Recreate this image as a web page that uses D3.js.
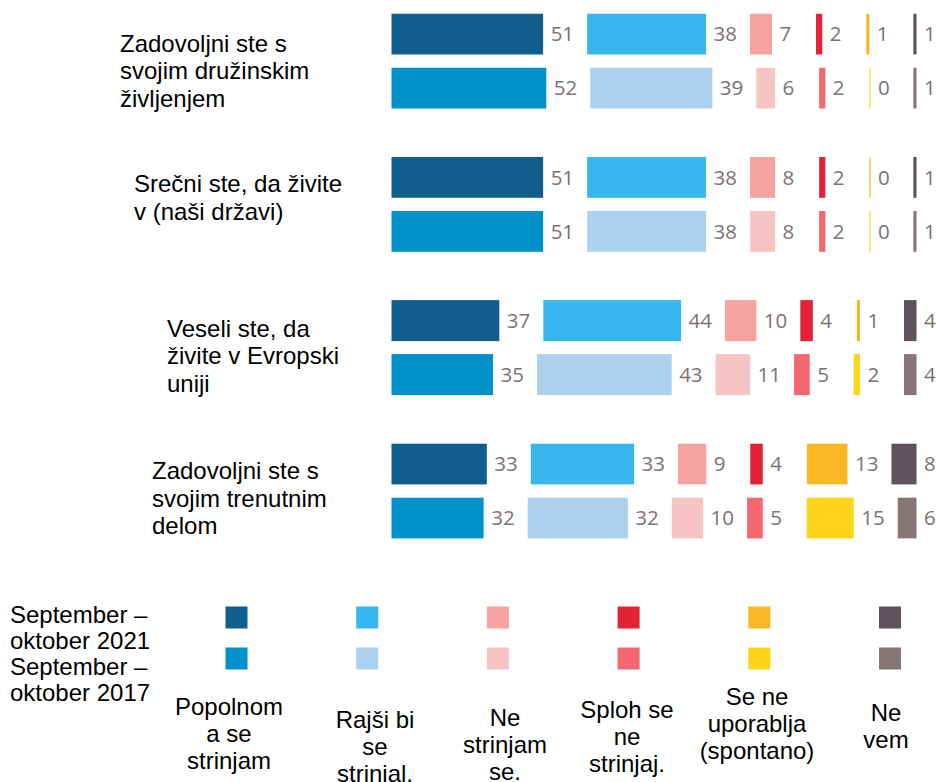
<!DOCTYPE html>
<html>
<head>
<meta charset="utf-8">
<script src="https://cdn.jsdelivr.net/npm/d3@7"></script>
<style>
  body { margin: 0; background: #fff; }
</style>
</head>
<body>
<div id="chart"></div>
<script>
// questions, split the way they are wrapped in the picture
var categories = ["druzinsko", "drzava", "eu", "delo"];
var categoryLines = [
    ["Zadovoljni ste s", "svojim družinskim", "življenjem"],
    ["Srečni ste, da živite", "v (naši državi)"],
    ["Veseli ste, da", "živite v Evropski", "uniji"],
    ["Zadovoljni ste s", "svojim trenutnim", "delom"]
];
var periods = ["2021", "2017"];
var periodLines = ["September –", "oktober 2021", "September –", "oktober 2017"];
var answerLines = [
    ["Popolnom", "a se", "strinjam"],
    ["Rajši bi", "se", "strinjal."],
    ["Ne", "strinjam", "se."],
    ["Sploh se", "ne", "strinjaj."],
    ["Se ne", "uporablja", "(spontano)"],
    ["Ne", "vem"]
];

// percentages, one row per question, one column per answer
var values2021 = [
    [51, 38, 7, 2, 1, 1],
    [51, 38, 8, 2, 0, 1],
    [37, 44, 10, 4, 1, 4],
    [33, 33, 9, 4, 13, 8]
];
var values2017 = [
    [52, 39, 6, 2, 0, 1],
    [51, 38, 8, 2, 0, 1],
    [35, 43, 11, 5, 2, 4],
    [32, 32, 10, 5, 15, 6]
];

var colors2021 = ["#0f5e8e", "#38b7ee", "#f4a3a0", "#e32236", "#f9b824", "#5f525c"];
var colors2017 = ["#0091cb", "#abd1ef", "#f6c4c2", "#f56770", "#fed518", "#877577"];

var width = 936, height = 782;
var barX0 = 383.5;   // where the (cropped) first bar would start
var clipX = 391.5;   // picture is cropped at the left of the bars
var gap = 44;        // space between one segment and the next (holds the number)

var svg = d3.select("#chart").append("svg")
    .attr("width", width)
    .attr("height", height)
    .style("font-family", "'Liberation Sans', Arial, sans-serif");

svg.append("defs").append("clipPath").attr("id", "barclip")
    .append("rect").attr("x", clipX).attr("y", 0).attr("width", width).attr("height", height);

var w = d3.scaleLinear().domain([0, 100]).range([0, 313]);

var yGroup = d3.scaleBand().domain(categories).range([13.5, 13.5 + 4 * 143.3]);
var yRow = d3.scaleBand().domain(periods).range([0, 95]).paddingInner(13 / 54);

// label x positions and first baseline offsets per question
var catX = [120, 134, 167, 152];
var catDy = [38.5, 35.5, 37, 36];

categories.forEach(function (cat, gi) {
    var g = svg.append("g").attr("transform", "translate(0," + yGroup(cat) + ")");

    g.append("text")
        .attr("x", catX[gi])
        .attr("y", catDy[gi])
        .style("font-size", "24px")
        .style("fill", "#000")
        .selectAll("tspan")
        .data(categoryLines[gi])
        .enter().append("tspan")
            .attr("x", catX[gi])
            .attr("dy", function (d, i) { return i === 0 ? 0 : 27.3; })
            .text(function (d) { return d; });

    [values2021[gi], values2017[gi]].forEach(function (vals, ri) {
        var colors = ri === 0 ? colors2021 : colors2017;
        var segs = [];
        var x = barX0;
        vals.forEach(function (v, i) {
            var bw = w(v);
            segs.push({v: v, x: x, w: Math.max(bw, 1.2), end: x + bw, c: colors[i]});
            x += bw + gap;
        });

        var row = g.append("g").attr("transform", "translate(0," + yRow(periods[ri]) + ")");

        row.selectAll("rect")
            .data(segs)
            .enter().append("rect")
                .attr("clip-path", "url(#barclip)")
                .attr("x", function (d) { return d.x; })
                .attr("y", 0)
                .attr("width", function (d) { return d.w; })
                .attr("height", yRow.bandwidth())
                .style("fill", function (d) { return d.c; });

        row.selectAll("text")
            .data(segs)
            .enter().append("text")
                .attr("x", function (d) { return Math.max(d.end, d.x + 1.2) + 7.5; })
                .attr("y", yRow.bandwidth() / 2)
                .attr("dy", "0.36em")
                .style("font-family", "'Open Sans', 'Noto Sans', sans-serif")
                .style("font-size", "20.5px")
                .style("fill", "#7c7276")
                .text(function (d) { return d.v; });
    });
});

// legend
var legend = svg.append("g");

legend.append("text")
    .attr("x", 10)
    .attr("y", 623)
    .style("font-size", "24px")
    .selectAll("tspan")
    .data(periodLines)
    .enter().append("tspan")
        .attr("x", 10)
        .attr("dy", function (d, i) { return i === 0 ? 0 : 26; })
        .text(function (d) { return d; });

var keyX = d3.scalePoint().domain(d3.range(6)).range([236.5, 890]);
var keyY = [606.5, 647.5];

[colors2021, colors2017].forEach(function (colors, ri) {
    legend.selectAll(".key" + ri)
        .data(colors)
        .enter().append("rect")
            .attr("x", function (d, i) { return keyX(i) - 11; })
            .attr("y", keyY[ri])
            .attr("width", 22)
            .attr("height", 22)
            .style("fill", function (d) { return d; });
});

var answerX = [229, 375, 505, 627, 757, 886];
var answerY = [715, 728, 726, 718, 705, 721];

answerLines.forEach(function (lines, i) {
    legend.append("text")
        .attr("y", answerY[i])
        .attr("text-anchor", "middle")
        .style("font-size", "24px")
        .selectAll("tspan")
        .data(lines)
        .enter().append("tspan")
            .attr("x", answerX[i])
            .attr("dy", function (d, j) { return j === 0 ? 0 : 26.8; })
            .text(function (d) { return d; });
});
</script>
</body>
</html>
